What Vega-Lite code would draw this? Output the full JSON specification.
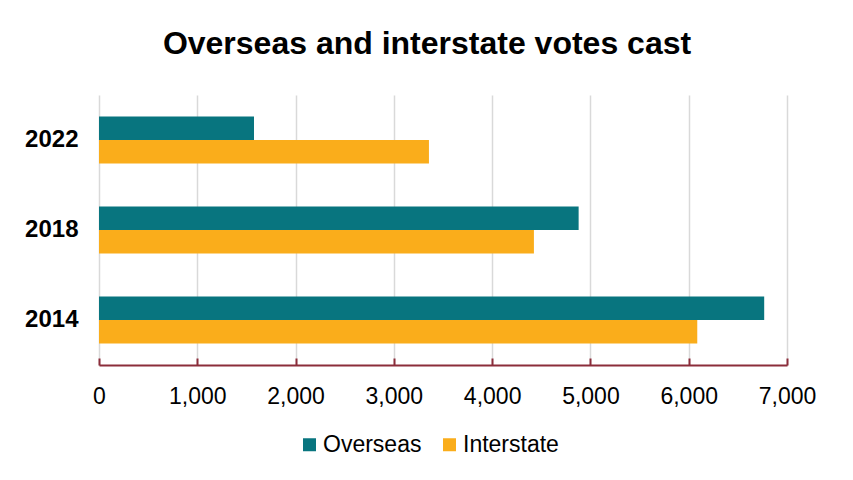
{
  "$schema": "https://vega.github.io/schema/vega-lite/v6.json",
  "width": 688,
  "height": 270,
  "autosize": {"type": "none"},
  "padding": {"left": 99, "top": 95, "right": 66, "bottom": 115},
  "background": "white",
  "config": {
    "view": {"stroke": null},
    "font": "Liberation Sans"
  },
  "title": {
    "text": "Overseas and interstate votes cast",
    "fontSize": 32,
    "fontWeight": "bold",
    "font": "Liberation Sans",
    "color": "#000000",
    "anchor": "middle",
    "dx": -16,
    "baseline": "alphabetic",
    "offset": 9
  },
  "data": {
    "values": [
      {"year": "2022", "series": "Overseas", "votes": 1577},
      {"year": "2022", "series": "Interstate", "votes": 3357},
      {"year": "2018", "series": "Overseas", "votes": 4880},
      {"year": "2018", "series": "Interstate", "votes": 4425},
      {"year": "2014", "series": "Overseas", "votes": 6768},
      {"year": "2014", "series": "Interstate", "votes": 6087}
    ]
  },
  "mark": {"type": "bar"},
  "encoding": {
    "y": {
      "field": "year",
      "type": "nominal",
      "sort": ["2022", "2018", "2014"],
      "scale": {"paddingInner": 0.478, "paddingOuter": 0.239},
      "axis": {
        "title": null,
        "domain": false,
        "ticks": false,
        "labelFontSize": 24,
        "labelFontWeight": "bold",
        "labelColor": "#000000",
        "labelPadding": 21
      }
    },
    "yOffset": {
      "field": "series",
      "type": "nominal",
      "sort": ["Overseas", "Interstate"],
      "scale": {"paddingInner": 0, "paddingOuter": 0}
    },
    "x": {
      "field": "votes",
      "type": "quantitative",
      "scale": {"domain": [0, 7000], "nice": false},
      "axis": {
        "title": null,
        "values": [0, 1000, 2000, 3000, 4000, 5000, 6000, 7000],
        "format": ",d",
        "labelFlush": false,
        "labelFontSize": 23,
        "labelColor": "#000000",
        "labelPadding": 27,
        "domainColor": "#8B2D3A",
        "domainWidth": 2,
        "tickColor": "#8B2D3A",
        "tickWidth": 2,
        "tickSize": -7,
        "gridColor": "#D9D9D9",
        "gridWidth": 1.5
      }
    },
    "color": {
      "field": "series",
      "type": "nominal",
      "sort": ["Overseas", "Interstate"],
      "scale": {"domain": ["Overseas", "Interstate"], "range": ["#08757F", "#FAAD1B"]},
      "legend": {
        "title": null,
        "orient": "none",
        "direction": "horizontal",
        "legendX": 199,
        "legendY": 338,
        "padding": 0,
        "symbolType": "square",
        "symbolSize": 169,
        "symbolStrokeWidth": 0,
        "symbolOpacity": 1,
        "labelFontSize": 23,
        "labelColor": "#000000",
        "labelOffset": 2,
        "columnPadding": 16
      }
    }
  }
}
